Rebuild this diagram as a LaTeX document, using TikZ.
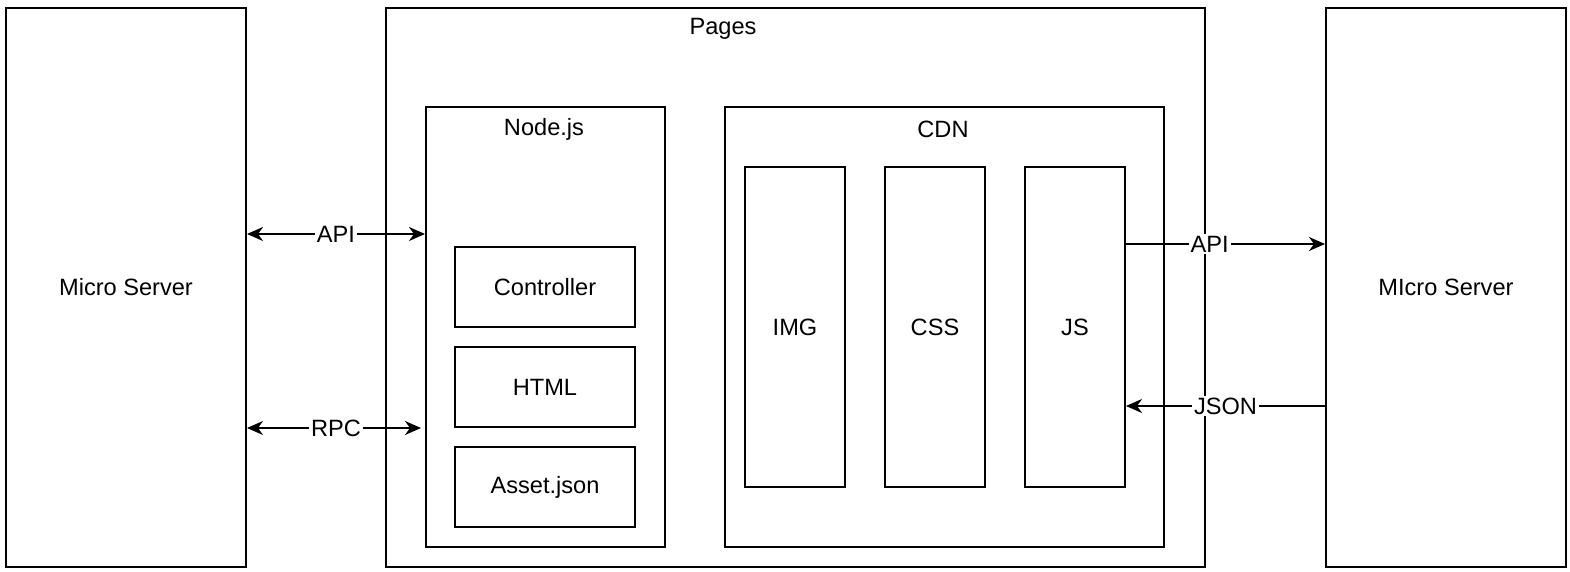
\documentclass[tikz,border=0pt]{standalone}
\usepackage{fontspec}
\setmainfont{Liberation Sans}
\usetikzlibrary{arrows.meta}
\begin{document}
\begin{tikzpicture}[x=0.5pt,y=-0.5pt,
  box/.style={draw, line width=1pt, inner sep=0pt, anchor=north west, font=\fontsize{11.8}{14}\selectfont},
  lbl/.style={inner sep=1pt, font=\fontsize{11.8}{14}\selectfont},
  conn/.style={line width=1pt, {Stealth[length=8pt,width=7pt,inset=2.5pt]}-{Stealth[length=8pt,width=7pt,inset=2.5pt]}},
  connr/.style={line width=1pt, -{Stealth[length=8pt,width=7pt,inset=2.5pt]}},
  elbl/.style={fill=white, inner sep=1pt, font=\fontsize{11.8}{14}\selectfont}]
\useasboundingbox (0,0) rectangle (1570,572);
% outer boxes
\node[box, minimum width=120pt, minimum height=279.5pt] (lms) at (5,7) {Micro Server};
\node[box, minimum width=409.5pt, minimum height=279.5pt] (pages) at (385,7) {};
\node[lbl] (pageslbl) at (723,29) {Pages};
\node[box, minimum width=120pt, minimum height=279.5pt] (rms) at (1325,7) {MIcro Server};
% Node.js
\node[box, minimum width=119.5pt, minimum height=220pt] (nodejs) at (425,106) {};
\node[lbl] (nodejslbl) at (544,129) {Node.js};
\node[box, minimum width=90pt, minimum height=40pt] (ctrl) at (454,246) {Controller};
\node[box, minimum width=90pt, minimum height=40pt] (html) at (454,346) {HTML};
\node[box, minimum width=90pt, minimum height=40pt] (asset) at (454,446) {Asset.json};
% CDN
\node[box, minimum width=219.5pt, minimum height=220pt] (cdn) at (724,106) {};
\node[lbl] (cdnlbl) at (943,129) {CDN};
\node[box, minimum width=50pt, minimum height=160pt] (img) at (744,166) {IMG};
\node[box, minimum width=50pt, minimum height=160pt] (css) at (884,166) {CSS};
\node[box, minimum width=50pt, minimum height=160pt] (js) at (1024,166) {JS};
% connectors
\draw[conn] (lms.east |- 0,234) -- node[elbl] {API} (nodejs.west |- 0,234);
\draw[conn, shorten >=2pt] (lms.east |- 0,428) -- node[elbl] {RPC} (nodejs.west |- 0,428);
\draw[connr] (js.east |- 0,244) -- node[elbl, pos=0.42] {API} (rms.west |- 0,244);
\draw[connr] (rms.west |- 0,406) -- node[elbl, pos=0.5] {JSON} (js.east |- 0,406);
\end{tikzpicture}
\end{document}
